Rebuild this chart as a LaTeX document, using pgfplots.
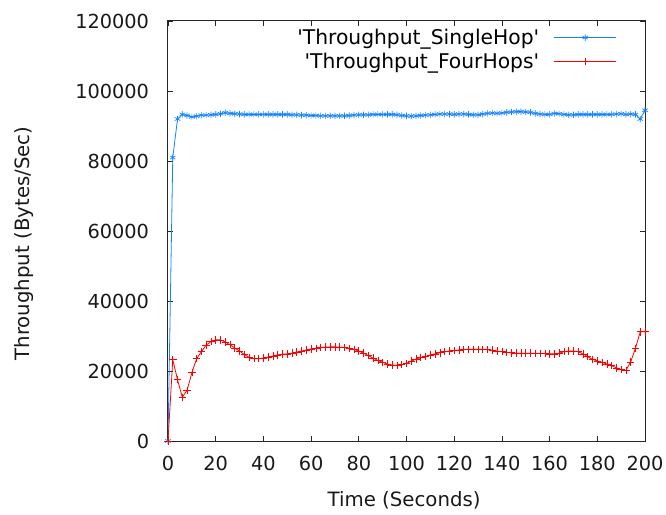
\documentclass[border=0pt]{standalone}
\usepackage{fontspec}
\setmainfont{DejaVu Sans}
\usepackage{pgfplots}
\usepackage{pgfplotstable}
\pgfplotsset{compat=1.18}
\definecolor{sblue}{RGB}{20,130,255}
\definecolor{sred}{RGB}{255,0,0}
\pgfplotstableread{
t v
0 0
2 81000
4 92000
6 93300
8 93000
10 92600
12 92800
14 93100
16 93100
18 93200
20 93300
22 93500
24 93800
26 93600
28 93500
30 93400
32 93300
34 93300
36 93300
38 93300
40 93300
42 93300
44 93300
46 93300
48 93300
50 93300
52 93200
54 93200
56 93100
58 93100
60 93000
62 93000
64 92900
66 92900
68 92900
70 92900
72 92900
74 92900
76 93000
78 93100
80 93200
82 93200
84 93200
86 93300
88 93300
90 93300
92 93300
94 93300
96 93200
98 93000
100 92900
102 92800
104 92900
106 93000
108 93100
110 93200
112 93300
114 93400
116 93400
118 93400
120 93300
122 93400
124 93400
126 93300
128 93200
130 93200
132 93400
134 93600
136 93700
138 93600
140 93700
142 93900
144 94000
146 94100
148 94100
150 94000
152 93900
154 93600
156 93400
158 93300
160 93300
162 93600
164 93500
166 93300
168 93200
170 93200
172 93300
174 93300
176 93300
178 93300
180 93300
182 93300
184 93300
186 93300
188 93400
190 93500
192 93300
194 93400
196 93300
198 92000
200 94500
}\single
\pgfplotstableread{
t v
0 0
2 23200
4 17500
6 12500
8 14500
10 19500
12 23500
14 25500
16 27400
18 28400
20 28900
22 28900
24 28300
26 27500
28 26600
30 25700
32 24700
34 23900
36 23500
38 23500
40 23700
42 24000
44 24300
46 24600
48 24800
50 24900
52 25100
54 25400
56 25700
58 26000
60 26300
62 26500
64 26700
66 26800
68 26900
70 26900
72 26800
74 26700
76 26500
78 26200
80 25700
82 25100
84 24400
86 23700
88 23000
90 22500
92 22000
94 21700
96 21600
98 21800
100 22200
102 22800
104 23400
106 23800
108 24200
110 24600
112 24900
114 25200
116 25500
118 25700
120 25900
122 26000
124 26100
126 26200
128 26200
130 26200
132 26200
134 26100
136 26000
138 25700
140 25500
142 25300
144 25200
146 25100
148 25100
150 25100
152 25100
154 25000
156 25000
158 25000
160 24900
162 24900
164 25100
166 25500
168 25700
170 25700
172 25500
174 24900
176 24100
178 23300
180 22900
182 22500
184 22000
186 21500
188 20900
190 20400
192 20200
194 22600
196 26500
198 31200
200 31200
}\four
\begin{document}
\begin{tikzpicture}
\begin{axis}[
  name=ax,
  scale only axis,
  width=357.75pt, height=315pt,
  xmin=0, xmax=200, ymin=0, ymax=120000,
  xtick={0,20,...,200},
  ytick={0,20000,40000,60000,80000,100000,120000},
  yticklabels={0,20000,40000,60000,80000,100000,120000},
  scaled y ticks=false,
  /pgf/number format/fixed,
  /pgf/number format/1000 sep={},
  /pgf/number format/assume math mode=true,
  tick align=inside,
  major tick length=4pt,
  axis line style={line width=0.75pt, black!85},
  tick style={line width=0.6pt, black!85},
  tick label style={font=\fontsize{14.5}{17}\selectfont, text=black!90},
  every tick label/.append style={inner sep=0pt},
  xticklabel style={yshift=-11.5pt},
  yticklabel style={xshift=-14pt},
  every axis x label/.style={at={(axis description cs:0.495,-0.14)}, anchor=center, font=\fontsize{14.8}{17}\selectfont, text=black!90},
  every axis y label/.style={at={(axis description cs:-0.302,0.47)}, anchor=center, rotate=90, font=\fontsize{14.8}{17}\selectfont, text=black!90},
  xlabel={Time (Seconds)},
  ylabel={Throughput (Bytes/Sec)},
  legend plot pos=right,
  legend cell align=right,
  legend style={draw=none, fill=none, at={(axis description cs:0.941,0.985)}, anchor=north east,
    inner sep=0pt, font=\fontsize{15.2}{18}\selectfont, row sep=3pt, column sep=10pt,
    nodes={inner sep=1pt}},
  legend image code/.code={\draw[mark repeat=2,mark phase=2] plot coordinates {(0pt,0pt)(23.25pt,0pt)(46.5pt,0pt)};},
]
\addplot[sblue, line width=0.6pt, mark=asterisk, mark size=2.4pt, mark options={solid, line width=0.5pt}] table[x=t,y=v]{\single};
\addlegendentry{\textquotesingle Throughput\_SingleHop\textquotesingle}
\addplot[sred, line width=0.6pt, mark=+, mark size=2.8pt, mark options={solid, line width=0.5pt}] table[x=t,y=v]{\four};
\addlegendentry{\textquotesingle Throughput\_FourHops\textquotesingle}
\end{axis}
\path (ax.south west) ++(-126pt,-54.75pt) coordinate (bbA);
\path (ax.north east) ++(15.75pt,15.75pt) coordinate (bbB);
\pgfresetboundingbox
\path[use as bounding box] (bbA) rectangle (bbB);
\end{tikzpicture}
\end{document}
